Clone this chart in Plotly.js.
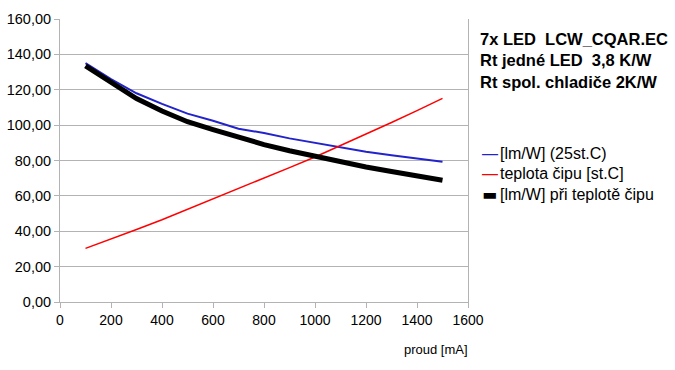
<!DOCTYPE html>
<html>
<head>
<meta charset="utf-8">
<script src="https://cdn.plot.ly/plotly-3.0.1.min.js"></script>
<style>html,body{margin:0;padding:0;background:#fff;}#chart{width:675px;height:370px;}</style>
</head>
<body>
<div id="chart"></div>
<script>
const current = [100, 200, 300, 400, 500, 600, 700, 800, 900, 1000, 1100, 1200, 1300, 1400, 1500];
const lmW25 = [135, 126, 118, 112, 106.5, 102.5, 98, 95.5, 92.5, 90, 87.5, 85, 83, 81, 79.3];
const chipTemp = [30.3, 35.5, 41, 46.5, 52.4, 58, 63.8, 69.8, 76, 82, 88.4, 95, 101.5, 108.2, 115.1];
const lmWChip = [133.5, 124, 115, 108, 101.9, 97.5, 93, 89, 85.5, 82.3, 79.3, 76.3, 73.8, 71.2, 68.8];
const seriesNames = ['[lm/W] (25st.C)', 'teplota čipu [st.C]', '[lm/W] při teplotě čipu'];
const seriesColors = ['#2323cc', '#ff0000', '#000000'];
const infoLines = ['7x LED  LCW_CQAR.EC', 'Rt jedné LED  3,8 K/W', 'Rt spol. chladiče 2K/W'];
const xTitle = 'proud [mA]';

const font = 'Liberation Sans, Arial, sans-serif';
const traces = [
  {x: current, y: lmW25, name: seriesNames[0], mode: 'lines', line: {color: seriesColors[0], width: 2}},
  {x: current, y: chipTemp, name: seriesNames[1], mode: 'lines', line: {color: seriesColors[1], width: 1.5}},
  {x: current, y: lmWChip, name: seriesNames[2], mode: 'lines', line: {color: seriesColors[2], width: 5}}
];

// custom legend (key dash + label) as annotations
const legendY = [0.5265, 0.4558, 0.3816];
const legendAnn = [];
seriesNames.forEach((n, i) => {
  const thick = i === 2;
  legendAnn.push({xref: 'paper', yref: 'paper', x: 1.032, y: legendY[i], xanchor: 'left', yanchor: 'middle',
    showarrow: false, borderpad: 0, text: thick ? '▬' : '—',
    font: {family: thick ? 'DejaVu Sans' : font, size: thick ? 16 : 16, color: seriesColors[i]}});
  legendAnn.push({xref: 'paper', yref: 'paper', x: 1.077, y: legendY[i], xanchor: 'left', yanchor: 'middle',
    showarrow: false, borderpad: 0, text: n, font: {family: font, size: 16, color: '#000'}});
});

const layout = {
  width: 675, height: 370,
  margin: {l: 60, r: 207, t: 19, b: 68},
  paper_bgcolor: '#fff', plot_bgcolor: '#fff',
  separators: ', ',
  font: {family: font, size: 13, color: '#000'},
  showlegend: false,
  xaxis: {range: [0, 1600], dtick: 200, tick0: 0, showgrid: false, zeroline: false,
          showline: true, linecolor: '#b3b3b3', linewidth: 1, ticks: 'outside', ticklen: 5, tickcolor: '#b3b3b3',
          tickfont: {family: font, size: 14, color: '#000'}, fixedrange: true},
  yaxis: {range: [0, 160], dtick: 20, tickformat: '.2f', showgrid: true, gridcolor: '#b3b3b3', zeroline: false,
          showline: true, mirror: true, linecolor: '#b3b3b3', linewidth: 1, ticks: 'outside', ticklen: 5, tickcolor: '#b3b3b3',
          tickfont: {family: font, size: 14.5, color: '#000'}, fixedrange: true},
  annotations: [
    {xref: 'paper', yref: 'paper', x: 1.005, y: -0.1696, xanchor: 'right', yanchor: 'middle', showarrow: false,
     text: xTitle, font: {family: font, size: 13, color: '#000'}},
    {xref: 'paper', yref: 'paper', x: 1.0245, y: 0.968, xanchor: 'left', yanchor: 'top', showarrow: false, align: 'left',
     text: infoLines.map(s => '<b>' + s + '</b>').join('<br>'), font: {family: font, size: 16.5, color: '#000'}}
  ].concat(legendAnn)
};
Plotly.newPlot('chart', traces, layout, {displayModeBar: false, staticPlot: true});
</script>
</body>
</html>
